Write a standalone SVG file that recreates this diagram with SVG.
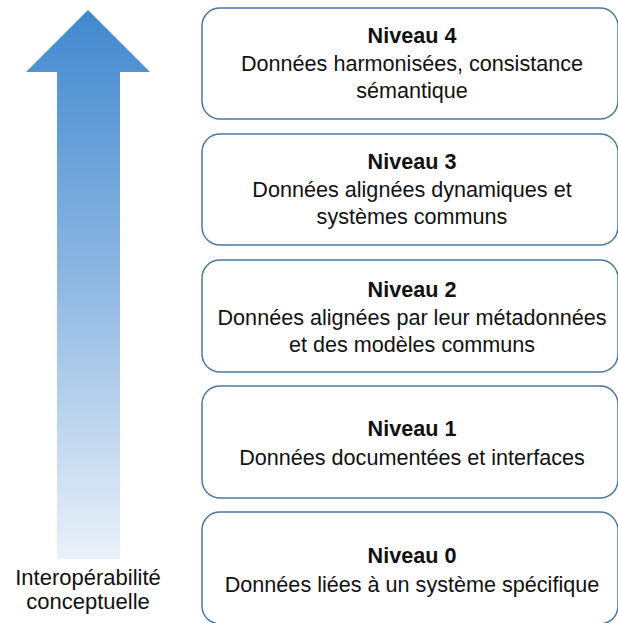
<svg xmlns="http://www.w3.org/2000/svg" width="618" height="623" viewBox="0 0 618 623">
<defs>
<linearGradient id="ag" x1="0" y1="10" x2="0" y2="559" gradientUnits="userSpaceOnUse">
<stop offset="0" stop-color="#4189cf"/>
<stop offset="0.5" stop-color="#8fb8e3"/>
<stop offset="1" stop-color="#eaf1f9"/>
</linearGradient>
<style>
.box{fill:#ffffff;stroke:#4a77a8;stroke-width:1.5}
text{font-family:"Liberation Sans",Arial,sans-serif;font-size:21.6px;fill:#111;text-anchor:middle}
.t{font-weight:bold}
.l{font-size:22px}
</style>
</defs>
<g id="arrow">
<polygon points="88,10 150,72 120,72 120,559 57,559 57,72 26,72" fill="url(#ag)"/>
<text class="l" x="88" y="585">Interopérabilité</text>
<text class="l" x="88" y="609">conceptuelle</text>
</g>
<g id="connectors"></g>
<g id="n4">
<rect class="box" x="202" y="8" width="416" height="111" rx="18"/>
<text class="t" x="412" y="43">Niveau 4</text>
<text x="412" y="71">Données harmonisées, consistance</text>
<text x="412" y="98">sémantique</text>
</g>
<g id="n3">
<rect class="box" x="202" y="134" width="416" height="111" rx="18"/>
<text class="t" x="412" y="169">Niveau 3</text>
<text x="412" y="197">Données alignées dynamiques et</text>
<text x="412" y="224">systèmes communs</text>
</g>
<g id="n2">
<rect class="box" x="202" y="260" width="416" height="112" rx="18"/>
<text class="t" x="412" y="297">Niveau 2</text>
<text x="412" y="325">Données alignées par leur métadonnées</text>
<text x="412" y="352">et des modèles communs</text>
</g>
<g id="n1">
<rect class="box" x="202" y="386" width="416" height="112" rx="18"/>
<text class="t" x="412" y="436">Niveau 1</text>
<text x="412" y="465">Données documentées et interfaces</text>
</g>
<g id="n0">
<rect class="box" x="202" y="512" width="416" height="112" rx="18"/>
<text class="t" x="412" y="563">Niveau 0</text>
<text x="412" y="592">Données liées à un système spécifique</text>
</g>
</svg>
